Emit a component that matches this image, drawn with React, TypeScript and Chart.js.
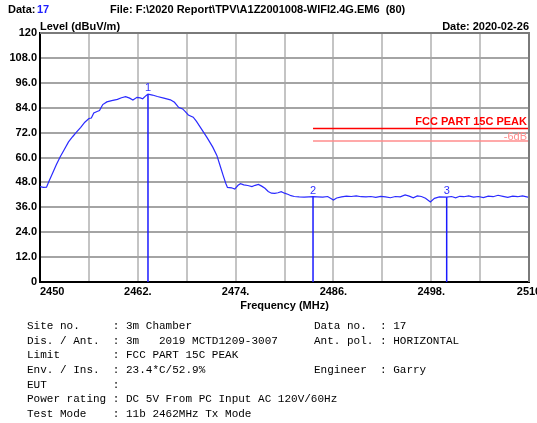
import React, { useEffect, useRef } from "react";
import { Chart, registerables } from "chart.js";

Chart.register(...registerables);

// ---------- data ----------
const FREQ_MHZ = [
  2450.0, 2450.4, 2450.8, 2451.1, 2451.5, 2452.0, 2452.5, 2453.0, 2453.5, 2454.0,
  2454.5, 2455.0, 2455.5, 2456.0, 2456.3, 2456.6, 2457.0, 2457.3, 2457.7, 2458.2,
  2458.8, 2459.5, 2460.0, 2460.5, 2461.0, 2461.4, 2461.9, 2462.3, 2462.6, 2463.0,
  2463.25, 2463.8, 2464.4, 2465.2, 2466.0, 2466.5, 2467.0, 2467.5, 2467.8, 2468.2,
  2468.8, 2469.2, 2469.6, 2470.1, 2470.5, 2471.2, 2471.7, 2472.1, 2472.5, 2472.8,
  2473.0, 2473.5, 2473.9, 2474.3, 2474.6, 2475.0, 2475.5, 2476.0, 2476.4, 2476.8,
  2477.2, 2477.6, 2478.0, 2478.4, 2478.8, 2479.2, 2479.6, 2480.0, 2480.4, 2480.8,
  2481.2, 2481.8, 2482.4, 2483.0, 2483.5, 2484.0, 2484.7, 2485.3, 2486.0, 2486.4,
  2487.0, 2487.6, 2488.2, 2488.8, 2489.4, 2490.0, 2490.6, 2491.2, 2491.8, 2492.4,
  2493.0, 2493.6, 2494.2, 2494.8, 2495.3, 2495.8, 2496.3, 2496.8, 2497.3, 2497.9,
  2498.4, 2499.0, 2499.9, 2500.5, 2501.0, 2501.5, 2502.0, 2502.6, 2503.2, 2503.8,
  2504.4, 2505.0, 2505.6, 2506.2, 2506.8, 2507.4, 2508.0, 2508.6, 2509.2, 2510.0,
];
const LEVEL_DBUV = [
  46.0, 45.6, 45.7, 48.5, 52.0, 56.5, 60.5, 64.0, 67.5, 70.0,
  72.3, 74.5, 77.0, 78.8, 79.0, 81.5, 82.2, 82.6, 85.5, 86.8,
  87.4, 88.0, 88.8, 89.3, 88.6, 87.7, 89.0, 88.7, 88.3, 89.8,
  90.5, 90.1, 89.4, 88.6, 87.8, 86.6, 84.2, 83.4, 82.2, 80.5,
  79.4, 77.4, 75.0, 72.0, 69.6, 65.0, 61.0, 56.0, 51.0, 47.5,
  45.6, 45.4, 44.8, 46.6, 47.4, 46.8, 46.5, 46.0, 46.6, 47.0,
  46.2, 45.2, 43.6, 42.8, 42.7, 43.0, 43.5, 42.8, 42.3, 41.6,
  41.2, 41.0, 40.9, 41.0, 41.1, 41.0, 40.9, 41.2, 39.5, 40.5,
  41.0, 41.4, 41.2, 41.5, 41.1, 41.0, 41.2, 40.8, 41.3, 41.0,
  40.6, 41.2, 41.0, 42.0, 41.4, 40.6, 41.5, 41.2, 40.4, 38.6,
  40.3, 41.0, 40.9, 41.2, 40.6, 41.3, 41.1, 41.5, 40.9, 41.2,
  40.7, 41.4, 41.1, 41.8, 41.3, 40.8, 41.4, 41.1, 41.5, 40.8,
];

const MARKER_LABELS = ["1", "2", "3"];
const MARKER_FREQ = [2463.25, 2483.5, 2499.9];
const MARKER_LEVEL = [90.5, 41.1, 40.9];

const LIMIT_NAME = "FCC PART 15C PEAK";
const LIMIT_START = 2483.5;
const LIMIT_END = 2510;
const LIMIT_LEVEL = 74;
const MARGIN_DB = 6;

const X_MIN = 2450;
const X_MAX = 2510;
const X_STEP = 6;
const X_TICK_LABELS = ["2450", "", "2462.", "", "2474.", "", "2486.", "", "2498.", "", "2510"];
const Y_MIN = 0;
const Y_MAX = 120;
const Y_STEP = 12;
const Y_TICK_LABELS = ["0", "12.0", "24.0", "36.0", "48.0", "60.0", "72.0", "84.0", "96.0", "108.0", "120"];

const HEADER_DATA_NO = "17";
const HEADER_FILE = "File: F:\\2020 Report\\TPV\\A1Z2001008-WIFI2.4G.EM6  (80)";
const HEADER_DATE = "Date: 2020-02-26";
const Y_TITLE = "Level (dBuV/m)";
const X_TITLE = "Frequency (MHz)";

const INFO_LEFT = [
  "Site no.     : 3m Chamber",
  "Dis. / Ant.  : 3m   2019 MCTD1209-3007",
  "Limit        : FCC PART 15C PEAK",
  "Env. / Ins.  : 23.4*C/52.9%",
  "EUT          :",
  "Power rating : DC 5V From PC Input AC 120V/60Hz",
  "Test Mode    : 11b 2462MHz Tx Mode",
];
const INFO_RIGHT = [
  "Data no.  : 17",
  "Ant. pol. : HORIZONTAL",
  "",
  "Engineer  : Garry",
  "",
  "",
  "",
];

// ---------- component ----------
const SANS = '"Liberation Sans", Arial, sans-serif';
const MONO = '"Liberation Mono", "Courier New", monospace';

export default function App() {
  const ref = useRef<HTMLCanvasElement | null>(null);

  useEffect(() => {
    document.body.style.margin = "0";
    document.body.style.background = "#ffffff";
    const canvas = ref.current;
    if (!canvas) return;

    const tracePts = FREQ_MHZ.map((f, i) => ({ x: f, y: LEVEL_DBUV[i] }));
    const markerSets = MARKER_FREQ.map((f, i) => ({
      label: "marker" + MARKER_LABELS[i],
      data: [
        { x: f, y: Y_MIN },
        { x: f, y: MARKER_LEVEL[i] },
      ],
      borderColor: "#1a1aff",
      borderWidth: 1.5,
      pointRadius: 0,
      tension: 0,
    }));

    const textPlugin = {
      id: "texts",
      afterDraw(chart: any) {
        const ctx = chart.ctx as CanvasRenderingContext2D;
        const xs = chart.scales.x;
        const ys = chart.scales.y;
        const area = chart.chartArea;
        ctx.save();

        // frame top/right
        ctx.strokeStyle = "#7a7a7a";
        ctx.lineWidth = 2;
        ctx.beginPath();
        ctx.moveTo(area.left, area.top);
        ctx.lineTo(area.right, area.top);
        ctx.lineTo(area.right, area.bottom);
        ctx.stroke();

        // header
        ctx.textBaseline = "alphabetic";
        ctx.textAlign = "left";
        ctx.font = "bold 11px " + SANS;
        ctx.fillStyle = "#000";
        ctx.fillText("Data:", 8, 13);
        ctx.fillStyle = "#2020ff";
        ctx.fillText(HEADER_DATA_NO, 37, 13);
        ctx.fillStyle = "#000";
        ctx.fillText(HEADER_FILE, 110, 13);
        ctx.fillText(Y_TITLE, area.left, 30);
        ctx.textAlign = "right";
        ctx.fillText(HEADER_DATE, area.right, 30);

        // x tick labels
        ctx.textBaseline = "top";
        X_TICK_LABELS.forEach((lab, i) => {
          if (!lab) return;
          const v = X_MIN + i * X_STEP;
          const px = xs.getPixelForValue(v);
          ctx.textAlign = i === 0 ? "left" : "center";
          ctx.fillText(lab, px, area.bottom + 4);
        });
        ctx.textAlign = "center";
        ctx.fillText(X_TITLE, (area.left + area.right) / 2, area.bottom + 18);

        // limit labels
        ctx.textBaseline = "alphabetic";
        ctx.textAlign = "right";
        ctx.fillStyle = "#ff0000";
        ctx.fillText(LIMIT_NAME, area.right - 2, ys.getPixelForValue(LIMIT_LEVEL) - 3);
        ctx.font = "11px " + SANS;
        ctx.fillStyle = "#ff8c8c";
        ctx.fillText("-" + MARGIN_DB + "dB", area.right - 2, ys.getPixelForValue(LIMIT_LEVEL - MARGIN_DB) - 1);

        // marker numbers
        ctx.fillStyle = "#3030ff";
        ctx.textAlign = "center";
        MARKER_FREQ.forEach((f, i) => {
          ctx.fillText(MARKER_LABELS[i], xs.getPixelForValue(f), ys.getPixelForValue(MARKER_LEVEL[i]) - 3);
        });

        // info block
        ctx.font = "11px " + MONO;
        ctx.fillStyle = "#000";
        ctx.textAlign = "left";
        INFO_LEFT.forEach((line, i) => {
          ctx.fillText(line, 27, 329 + i * 14.67);
        });
        INFO_RIGHT.forEach((line, i) => {
          if (line) ctx.fillText(line, 314, 329 + i * 14.67);
        });
        ctx.restore();
      },
    };

    const chart = new Chart(canvas, {
      type: "line",
      data: {
        datasets: [
          {
            label: "trace",
            data: tracePts,
            borderColor: "#2a2aff",
            borderWidth: 1.2,
            pointRadius: 0,
            tension: 0,
          },
          {
            label: "limit",
            data: [
              { x: LIMIT_START, y: LIMIT_LEVEL },
              { x: LIMIT_END, y: LIMIT_LEVEL },
            ],
            borderColor: "#ff0000",
            borderWidth: 1.5,
            pointRadius: 0,
          },
          {
            label: "limit-6",
            data: [
              { x: LIMIT_START, y: LIMIT_LEVEL - MARGIN_DB },
              { x: LIMIT_END, y: LIMIT_LEVEL - MARGIN_DB },
            ],
            borderColor: "#ff8c8c",
            borderWidth: 1.5,
            pointRadius: 0,
          },
          ...markerSets,
        ] as any,
      },
      options: {
        responsive: false,
        animation: false,
        layout: { padding: { top: 33, right: 8, bottom: 131, left: 0 } },
        plugins: {
          legend: { display: false },
          tooltip: { enabled: false },
        },
        scales: {
          x: {
            type: "linear",
            min: X_MIN,
            max: X_MAX,
            ticks: { stepSize: X_STEP, display: false },
            grid: { color: "#c4c4c4", lineWidth: 2, drawTicks: false },
            border: { color: "#000", width: 2 },
            afterFit: (s: any) => {
              s.height = 10;
            },
          },
          y: {
            type: "linear",
            min: Y_MIN,
            max: Y_MAX,
            ticks: {
              stepSize: Y_STEP,
              padding: 3,
              color: "#000",
              font: { family: SANS, size: 11, weight: "bold" },
              callback: (v: any) => Y_TICK_LABELS[Math.round((v - Y_MIN) / Y_STEP)] ?? "",
            },
            grid: { color: "#a4a4a4", lineWidth: 2, drawTicks: false },
            border: { color: "#000", width: 2 },
            afterFit: (s: any) => {
              s.width = 40;
            },
          },
        },
      } as any,
      plugins: [textPlugin],
    });
    return () => chart.destroy();
  }, []);

  return <canvas ref={ref} width={537} height={423} style={{ display: "block" }} />;
}
